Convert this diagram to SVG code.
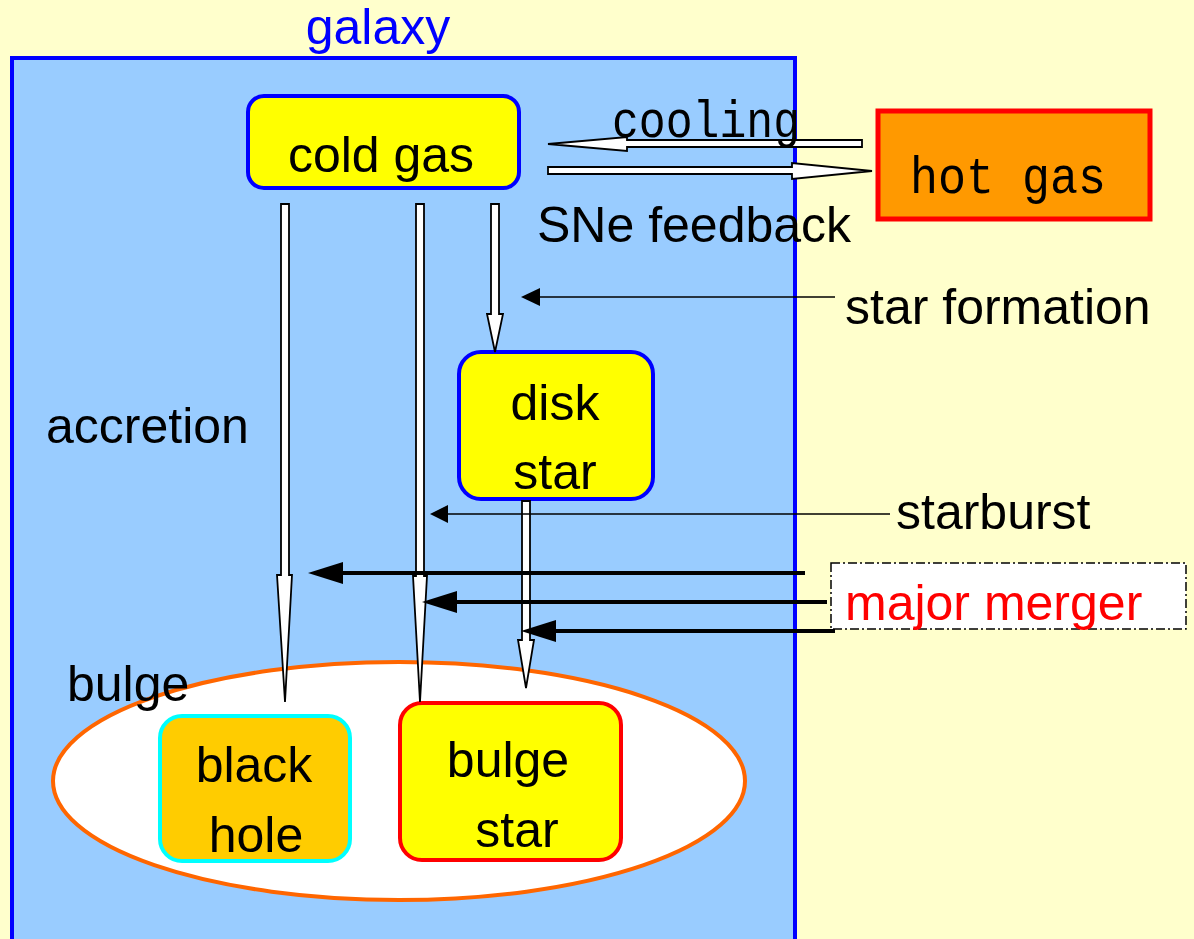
<svg xmlns="http://www.w3.org/2000/svg" width="1194" height="939" viewBox="0 0 1194 939">
  <style>
    .lbl { font-family: "Liberation Sans", Arial, sans-serif; font-size: 50px; fill: #000; }
    .mid { text-anchor: middle; }
    .mono { font-family: "Liberation Mono", "Courier New", monospace; font-size: 52px; fill: #000; }
    .block { fill: #fff; stroke: #000; stroke-width: 1.8; stroke-linejoin: miter; }
    .thin { stroke: #000; stroke-width: 1.5; fill: none; }
    .thick { stroke: #000; stroke-width: 4; fill: none; }
    .head { fill: #000; stroke: none; }
  </style>

  <!-- background -->
  <rect x="0" y="0" width="1194" height="939" fill="#FFFFCC"/>

  <!-- galaxy container -->
  <g id="galaxy">
    <rect x="12" y="58" width="783" height="900" fill="#99CCFF" stroke="#0000FF" stroke-width="4"/>
    <text class="lbl mid" x="378" y="44" font-size="48" style="fill:#0000FF">galaxy</text>
  </g>

  <!-- bulge region -->
  <g id="bulge">
    <ellipse cx="399" cy="781" rx="346" ry="119" fill="#FFFFFF" stroke="#FF6600" stroke-width="4"/>
    <text class="lbl" x="67" y="701">bulge</text>
  </g>

  <g id="cold-gas">
    <rect x="248" y="96" width="271" height="92" rx="16" fill="#FFFF00" stroke="#0000FF" stroke-width="4"/>
    <text class="lbl mid" x="381" y="172">cold gas</text>
  </g>

  <g id="hot-gas">
    <rect x="878" y="111" width="272" height="108" fill="#FF9900" stroke="#FF0000" stroke-width="5"/>
    <text class="mono" x="910" y="193" textLength="196" lengthAdjust="spacingAndGlyphs">hot gas</text>
  </g>

  <g id="disk-star">
    <rect x="459" y="352" width="194" height="147" rx="22" fill="#FFFF00" stroke="#0000FF" stroke-width="4"/>
    <text class="lbl mid" x="555" y="420">disk</text>
    <text class="lbl mid" x="555" y="489">star</text>
  </g>

  <g id="black-hole">
    <rect x="160" y="716" width="190" height="145" rx="22" fill="#FFCC00" stroke="#00FFFF" stroke-width="4"/>
    <text class="lbl mid" x="254" y="782">black</text>
    <text class="lbl mid" x="256" y="852">hole</text>
  </g>

  <g id="bulge-star">
    <rect x="400" y="703" width="221" height="157" rx="22" fill="#FFFF00" stroke="#FF0000" stroke-width="4"/>
    <text class="lbl mid" x="508" y="777">bulge</text>
    <text class="lbl mid" x="517" y="847">star</text>
  </g>

  <g id="major-merger">
    <rect x="831" y="563" width="355" height="66" fill="#FFFFFF" stroke="#000" stroke-width="1.5" stroke-dasharray="9 3 2 3"/>
    <text class="lbl" x="845" y="620" style="fill:#FF0000">major merger</text>
  </g>

  <!-- connectors -->
  <g id="connectors">
    <!-- hollow block arrows -->
    <polygon class="block" points="281,204 289,204 289,575 292,575 285,702 277,575 281,575"/>
    <polygon class="block" points="416,204 424,204 424,576 427,576 420,702 413,576 416,576"/>
    <polygon class="block" points="491,204 499,204 499,314 503,314 495,352 487,314 491,314"/>
    <polygon class="block" points="522,501 530,501 530,640 534,640 526,688 518,640 522,640"/>
    <polygon class="block" points="862,140 862,147 627,147 627,151 548,144 627,137 627,140"/>
    <polygon class="block" points="548,167 792,167 792,163 872,171 792,179 792,174 548,174"/>

    <!-- star formation -->
    <line class="thin" x1="835" y1="297" x2="538" y2="297"/>
    <polygon class="head" points="521,297 540,288 540,306"/>
    <!-- starburst -->
    <line class="thin" x1="890" y1="514" x2="446" y2="514"/>
    <polygon class="head" points="430,514 448,505 448,523"/>

    <!-- major merger -->
    <line class="thick" x1="805" y1="573" x2="340" y2="573"/>
    <polygon class="head" points="308,573 343,562 343,584"/>
    <line class="thick" x1="827" y1="602" x2="454" y2="602"/>
    <polygon class="head" points="422,602 457,591 457,613"/>
    <line class="thick" x1="835" y1="631" x2="553" y2="631"/>
    <polygon class="head" points="521,631 556,620 556,642"/>
  </g>

  <!-- process labels -->
  <g id="labels">
    <text class="mono" x="612" y="137" textLength="188" lengthAdjust="spacingAndGlyphs">cooling</text>
    <text class="lbl" x="537" y="242" font-size="49">SNe feedback</text>
    <text class="lbl" x="845" y="324">star formation</text>
    <text class="lbl" x="46" y="443">accretion</text>
    <text class="lbl" x="896" y="529">starburst</text>
  </g>
</svg>
